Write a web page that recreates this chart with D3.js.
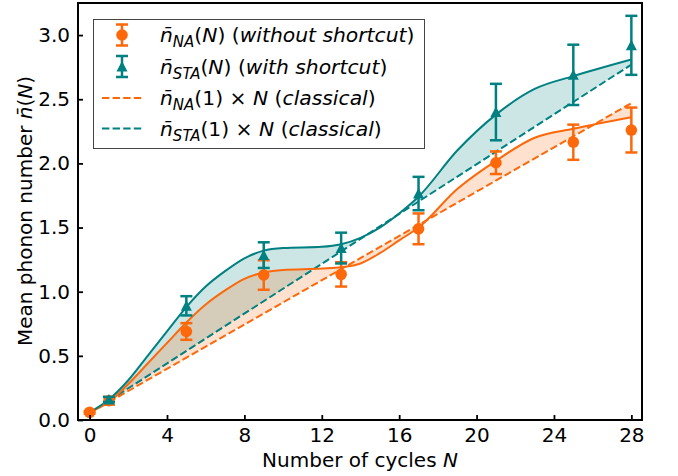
<!DOCTYPE html>
<html>
<head>
<meta charset="utf-8">
<script src="https://cdn.jsdelivr.net/npm/d3@7"></script>
<style>
    body { margin: 0; background: #fff; }
    svg text { font-family: "DejaVu Sans", sans-serif; fill: #000; }
</style>
</head>
<body>
<div id="chart"></div>
<script>
// measured points (N, value, error bar half height)
const cyclesNA = [0, 1, 5, 9, 13, 17, 21, 25, 28];
const nNA = [0.06, 0.15, 0.69, 1.13, 1.135, 1.49, 2.005, 2.165, 2.26];
const errNA = [0.01, 0.03, 0.065, 0.115, 0.095, 0.12, 0.088, 0.137, 0.175];

const cyclesSTA = [1, 5, 9, 13, 17, 21, 25, 28];
const nSTA = [0.16, 0.89, 1.285, 1.34, 1.765, 2.40, 2.69, 2.92];
const errSTA = [0.02, 0.075, 0.10, 0.12, 0.13, 0.22, 0.235, 0.23];

// smooth guide curves
const curveN = [0, 1, 2, 3, 4, 5, 6, 7, 8, 9, 10, 12, 13, 14, 15, 16, 17, 19, 21, 23, 25, 28];
const curveNA = [0.06, 0.14, 0.28, 0.44, 0.60, 0.76, 0.90, 1.01, 1.10, 1.15, 1.17, 1.18, 1.19, 1.22, 1.30, 1.40, 1.50, 1.80, 2.02, 2.20, 2.27, 2.36];
const curveSTA = [0.06, 0.16, 0.31, 0.50, 0.69, 0.88, 1.04, 1.16, 1.26, 1.32, 1.34, 1.35, 1.37, 1.42, 1.50, 1.61, 1.74, 2.10, 2.38, 2.58, 2.68, 2.81];

// classical lines n(1) x N, end points
const classicalN = [1, 28];
const classicalNA = [0.14, 2.47];
const classicalSTA = [0.15, 2.77];

const xTicks = [0, 4, 8, 12, 16, 20, 24, 28];
const yTicks = [0, 0.5, 1.0, 1.5, 2.0, 2.5, 3.0];

const orange = "#fc680a",
    teal = "#008080";

var width = 678, height = 476;
var plot = { left: 78, right: 642, top: 3, bottom: 420 };

var svg = d3.select("#chart").append("svg")
    .attr("width", width)
    .attr("height", height);

var x = d3.scaleLinear().domain([-0.6, 28.55]).range([plot.left, plot.right]);
var y = d3.scaleLinear().domain([0, 3.25]).range([plot.bottom, plot.top]);

var lineNA = d3.scaleLinear().domain(classicalN).range(classicalNA);
var lineSTA = d3.scaleLinear().domain(classicalN).range(classicalSTA);

// fills between the curve and the classical line
function fillData(vals, lin) {
    return curveN.map((n, i) => ({ n: n, top: vals[i], base: lin(n) }))
        .filter(d => d.n >= classicalN[0]);
}
var area = d3.area()
    .x(d => x(d.n))
    .y0(d => y(d.base))
    .y1(d => y(d.top))
    .curve(d3.curveMonotoneX);

svg.append("path")
    .datum(fillData(curveSTA, lineSTA))
    .attr("d", area)
    .attr("fill", teal)
    .attr("fill-opacity", 0.2);

svg.append("path")
    .datum(fillData(curveNA, lineNA))
    .attr("d", area)
    .attr("fill", orange)
    .attr("fill-opacity", 0.2);

// classical dashed lines
[[classicalNA, orange], [classicalSTA, teal]].forEach(([vals, col]) => {
    svg.append("line")
        .attr("x1", x(classicalN[0])).attr("y1", y(vals[0]))
        .attr("x2", x(classicalN[1])).attr("y2", y(vals[1]))
        .attr("stroke", col)
        .attr("stroke-width", 2)
        .attr("stroke-dasharray", "7.4,3.2");
});

// smooth curves
var line = d3.line()
    .x((d, i) => x(curveN[i]))
    .y(d => y(d))
    .curve(d3.curveMonotoneX);

svg.append("path").datum(curveNA).attr("d", line)
    .attr("fill", "none").attr("stroke", orange).attr("stroke-width", 2);
svg.append("path").datum(curveSTA).attr("d", line)
    .attr("fill", "none").attr("stroke", teal).attr("stroke-width", 2);

// error bars
function triangle(s) {
    return "M0," + (-s / 2 - 0.5) + "L" + (s / 2 + 0.5) + "," + (s / 2) + "L" + (-s / 2 - 0.5) + "," + (s / 2) + "Z";
}

function errorBars(g, cx, cy, ylo, yhi, col, marker) {
    g.append("line")
        .attr("x1", cx).attr("x2", cx).attr("y1", ylo).attr("y2", yhi)
        .attr("stroke", col).attr("stroke-width", 2.5);
    [ylo, yhi].forEach(v => {
        g.append("line")
            .attr("x1", cx - 6).attr("x2", cx + 6).attr("y1", v).attr("y2", v)
            .attr("stroke", col).attr("stroke-width", 2.5);
    });
    if (marker == "circle") {
        g.append("circle").attr("cx", cx).attr("cy", cy).attr("r", 5.8).attr("fill", col);
    } else {
        g.append("path").attr("d", triangle(10))
            .attr("transform", "translate(" + cx + "," + cy + ")")
            .attr("fill", col);
    }
}

var ebNA = svg.append("g");
cyclesNA.forEach((n, i) => {
    errorBars(ebNA, x(n), y(nNA[i]), y(nNA[i] - errNA[i]), y(nNA[i] + errNA[i]), orange, "circle");
});
var ebSTA = svg.append("g");
cyclesSTA.forEach((n, i) => {
    errorBars(ebSTA, x(n), y(nSTA[i]), y(nSTA[i] - errSTA[i]), y(nSTA[i] + errSTA[i]), teal, "triangle");
});

// axes (ticks inside)
var xAxis = svg.append("g")
    .attr("transform", "translate(0," + plot.bottom + ")")
    .call(d3.axisBottom(x).tickValues(xTicks).tickSizeInner(-5).tickSizeOuter(0).tickPadding(10));
var yAxis = svg.append("g")
    .attr("transform", "translate(" + plot.left + ",0)")
    .call(d3.axisLeft(y).tickValues(yTicks).tickFormat(d3.format(".1f")).tickSizeInner(-5).tickSizeOuter(0).tickPadding(8));

[xAxis, yAxis].forEach(a => {
    a.select(".domain").remove();
    a.selectAll(".tick line").attr("stroke", "#000").attr("stroke-width", 1.8);
    a.selectAll(".tick text").style("font-size", "20px").attr("fill", "#000");
});
xAxis.selectAll(".tick text").attr("dy", "0.71em").attr("y", 8);

svg.append("rect")
    .attr("x", plot.left).attr("y", plot.top)
    .attr("width", plot.right - plot.left).attr("height", plot.bottom - plot.top)
    .attr("fill", "none").attr("stroke", "#000").attr("stroke-width", 2);

// axis labels
var xl = svg.append("text")
    .attr("x", (plot.left + plot.right) / 2).attr("y", 467)
    .attr("text-anchor", "middle").style("font-size", "20px");
xl.append("tspan").text("Number of cycles ");
xl.append("tspan").style("font-style", "italic").text("N");

var yl = svg.append("text")
    .attr("transform", "translate(32,211) rotate(-90)")
    .attr("text-anchor", "middle").style("font-size", "20px");
yl.append("tspan").text("Mean phonon number ");
yl.append("tspan").style("font-style", "italic").text("n\u0304");
yl.append("tspan").text("(");
yl.append("tspan").style("font-style", "italic").text("N");
yl.append("tspan").text(")");

// legend
var legend = svg.append("g");
legend.append("rect")
    .attr("x", 93.5).attr("y", 19.5).attr("width", 331).attr("height", 129)
    .attr("fill", "#fff").attr("stroke", "#444").attr("stroke-width", 1);

// parts: [text, kind] kind: n normal, i italic, s italic subscript
const legendLabels = [
    [["n\u0304", "i"], ["NA", "s"], ["(", "n"], ["N", "i"], [") (", "n"], ["without shortcut", "i"], [")", "n"]],
    [["n\u0304", "i"], ["STA", "s"], ["(", "n"], ["N", "i"], [") (", "n"], ["with shortcut", "i"], [")", "n"]],
    [["n\u0304", "i"], ["NA", "s"], ["(1) \u00d7 ", "n"], ["N", "i"], [" (", "n"], ["classical", "i"], [")", "n"]],
    [["n\u0304", "i"], ["STA", "s"], ["(1) \u00d7 ", "n"], ["N", "i"], [" (", "n"], ["classical", "i"], [")", "n"]]
];
const legendRows = [35, 66.5, 98, 128.5];

legendLabels.forEach((parts, k) => {
    let cy = legendRows[k];
    let col = (k % 2 == 0) ? orange : teal;
    if (k < 2) {
        errorBars(legend, 122, cy, cy + 10.5, cy - 10.5, col, k == 0 ? "circle" : "triangle");
    } else {
        legend.append("line")
            .attr("x1", 102).attr("x2", 143).attr("y1", cy).attr("y2", cy)
            .attr("stroke", col).attr("stroke-width", 2)
            .attr("stroke-dasharray", "7.4,3.2");
    }
    let t = legend.append("text")
        .attr("x", 160).attr("y", cy + 7)
        .style("font-size", "20.3px");
    let shifted = false;
    parts.forEach(([txt, kind]) => {
        let ts = t.append("tspan").text(txt);
        if (kind == "i" || kind == "s") ts.style("font-style", "italic");
        if (kind == "s") {
            ts.style("font-size", "15px").attr("dy", 5);
            shifted = true;
        } else if (shifted) {
            ts.attr("dy", -5);
            shifted = false;
        }
    });
});
</script>
</body>
</html>
